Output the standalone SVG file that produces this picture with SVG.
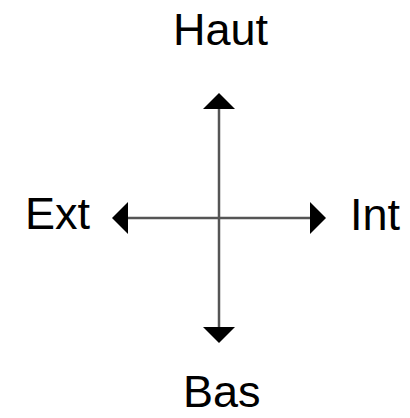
<svg xmlns="http://www.w3.org/2000/svg" width="410" height="418" viewBox="0 0 410 418">
<style>
text{font-family:"Liberation Sans",Arial,sans-serif;font-size:45px;fill:#000}
.ln{stroke:#555;stroke-width:2.5;fill:none}
.ah{fill:#000}
</style>
<rect width="410" height="418" fill="#fff"/>
<g id="connectors">
<line class="ln" x1="219" y1="108" x2="219" y2="328"/>
<line class="ln" x1="126" y1="218" x2="314" y2="218"/>
<polygon class="ah" points="219,93 235,109 203,109"/>
<polygon class="ah" points="219,343 235,327 203,327"/>
<polygon class="ah" points="112,218 128,202 128,234"/>
<polygon class="ah" points="326,218 310,202 310,234"/>
</g>
<g id="haut"><text x="173" y="45">Haut</text></g>
<g id="bas"><text x="183" y="407">Bas</text></g>
<g id="ext"><text x="25" y="229">Ext</text></g>
<g id="int"><text x="350" y="230">Int</text></g>
</svg>
